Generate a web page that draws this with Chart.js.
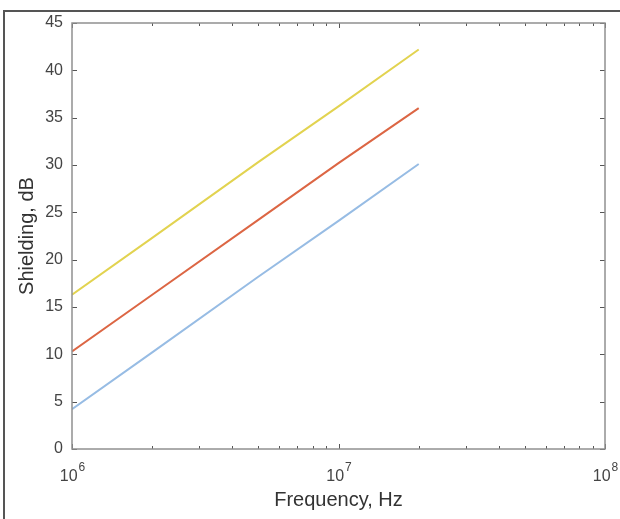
<!DOCTYPE html>
<html>
<head>
<meta charset="utf-8">
<script src="https://cdn.jsdelivr.net/npm/chart.js@4/dist/chart.umd.min.js"></script>
<style>
  html, body { margin: 0; padding: 0; background: #fff; }
  #wrap { position: relative; width: 620px; height: 519px; }
  #frame {
    position: absolute; left: 3px; top: 10px; right: -10px; bottom: -10px;
    border-left: 2px solid #555; border-top: 2px solid #555;
  }
  canvas { position: absolute; left: 0; top: 0; }
</style>
</head>
<body>
<div id="wrap">
  <div id="frame"></div>
  <canvas id="myChart" width="620" height="519"></canvas>
</div>
<script>
// frequencies in Hz
var freq = [1e6, 2e6, 5e6, 1e7, 2e7];
var yellowLine = [16.3, 22.3, 30.3, 36.2, 42.2];
var redLine = [10.3, 16.3, 24.2, 30.2, 36.0];
var blueLine = [4.2, 10.2, 18.2, 24.1, 30.1];
var xTicks = [1e6, 1e7, 1e8];
var xTickExp = ["6", "7", "8"];
var yTicks = [0, 5, 10, 15, 20, 25, 30, 35, 40, 45];

function pts(vals) {
  return freq.map(function (f, i) {
    return { x: f, y: vals[i] };
  });
}

// matlab style ticks pointing into the plot, on all four sides
var insideTicks = {
  id: "insideTicks",
  afterDraw: function (chart) {
    var c = chart.ctx;
    var a = chart.chartArea;
    var xs = chart.scales.x;
    var ys = chart.scales.y;
    c.save();
    c.strokeStyle = "#555";
    c.lineWidth = 1;
    c.beginPath();
    yTicks.forEach(function (v) {
      var py = Math.round(ys.getPixelForValue(v)) + 0.5;
      c.moveTo(a.left, py);
      c.lineTo(a.left + 5, py);
      c.moveTo(a.right, py);
      c.lineTo(a.right - 5, py);
    });
    for (var d = 1e6; d < 1e8; d *= 10) {
      for (var k = 1; k <= 10; k++) {
        var len = k === 1 || k === 10 ? 5 : 3;
        var px = Math.round(xs.getPixelForValue(d * k)) + 0.5;
        c.moveTo(px, a.bottom);
        c.lineTo(px, a.bottom - len);
        c.moveTo(px, a.top);
        c.lineTo(px, a.top + len);
      }
    }
    c.stroke();
    // box
    c.strokeStyle = "#909090";
    c.lineWidth = 1.5;
    c.strokeRect(a.left, a.top, a.right - a.left, a.bottom - a.top);

    // x tick labels as 10 with raised exponent
    c.fillStyle = "#444";
    c.textBaseline = "alphabetic";
    xTicks.forEach(function (v, i) {
      var px = xs.getPixelForValue(v);
      c.font = "16px 'Liberation Sans'";
      var w1 = c.measureText("10").width;
      c.font = "12px 'Liberation Sans'";
      var w2 = c.measureText(xTickExp[i]).width;
      var x0 = px - (w1 + w2) / 2;
      c.font = "16px 'Liberation Sans'";
      c.textAlign = "left";
      c.fillText("10", x0, a.bottom + 32);
      c.font = "12px 'Liberation Sans'";
      c.fillText(xTickExp[i], x0 + w1 + 1, a.bottom + 22);
    });
    c.restore();
  },
};

var ctx = document.getElementById("myChart");
new Chart(ctx, {
  type: "line",
  data: {
    datasets: [
      {
        label: "yellow",
        data: pts(yellowLine),
        borderColor: "#e2d350",
        borderWidth: 2,
        pointRadius: 0,
      },
      {
        label: "red",
        data: pts(redLine),
        borderColor: "#dc6644",
        borderWidth: 2,
        pointRadius: 0,
      },
      {
        label: "blue",
        data: pts(blueLine),
        borderColor: "#97bce4",
        borderWidth: 2,
        pointRadius: 0,
      },
    ],
  },
  options: {
    responsive: false,
    animation: false,
    layout: { padding: { left: 15, top: 23, right: 15, bottom: 0 } },
    plugins: {
      legend: { display: false },
      tooltip: { enabled: false },
    },
    scales: {
      x: {
        type: "logarithmic",
        min: 1e6,
        max: 1e8,
        grid: { display: false, drawTicks: false },
        border: { display: false },
        afterFit: function (scale) {
          scale.height = 70;
        },
        ticks: { display: false },
        title: {
          display: true,
          text: "Frequency, Hz",
          color: "#333",
          font: { family: "Liberation Sans", size: 20 },
          padding: { top: 2, bottom: 7 },
        },
      },
      y: {
        min: 0,
        max: 45,
        grid: { display: false, drawTicks: false },
        border: { display: false },
        afterBuildTicks: function (scale) {
          scale.ticks = yTicks.map(function (v) {
            return { value: v };
          });
        },
        afterFit: function (scale) {
          scale.width = 57;
        },
        ticks: {
          padding: 9,
          color: "#444",
          font: { family: "Liberation Sans", size: 16 },
        },
        title: {
          display: true,
          text: "Shielding, dB",
          color: "#333",
          font: { family: "Liberation Sans", size: 20 },
          padding: { top: 0, bottom: 4 },
        },
      },
    },
  },
  plugins: [insideTicks],
});
</script>
</body>
</html>
